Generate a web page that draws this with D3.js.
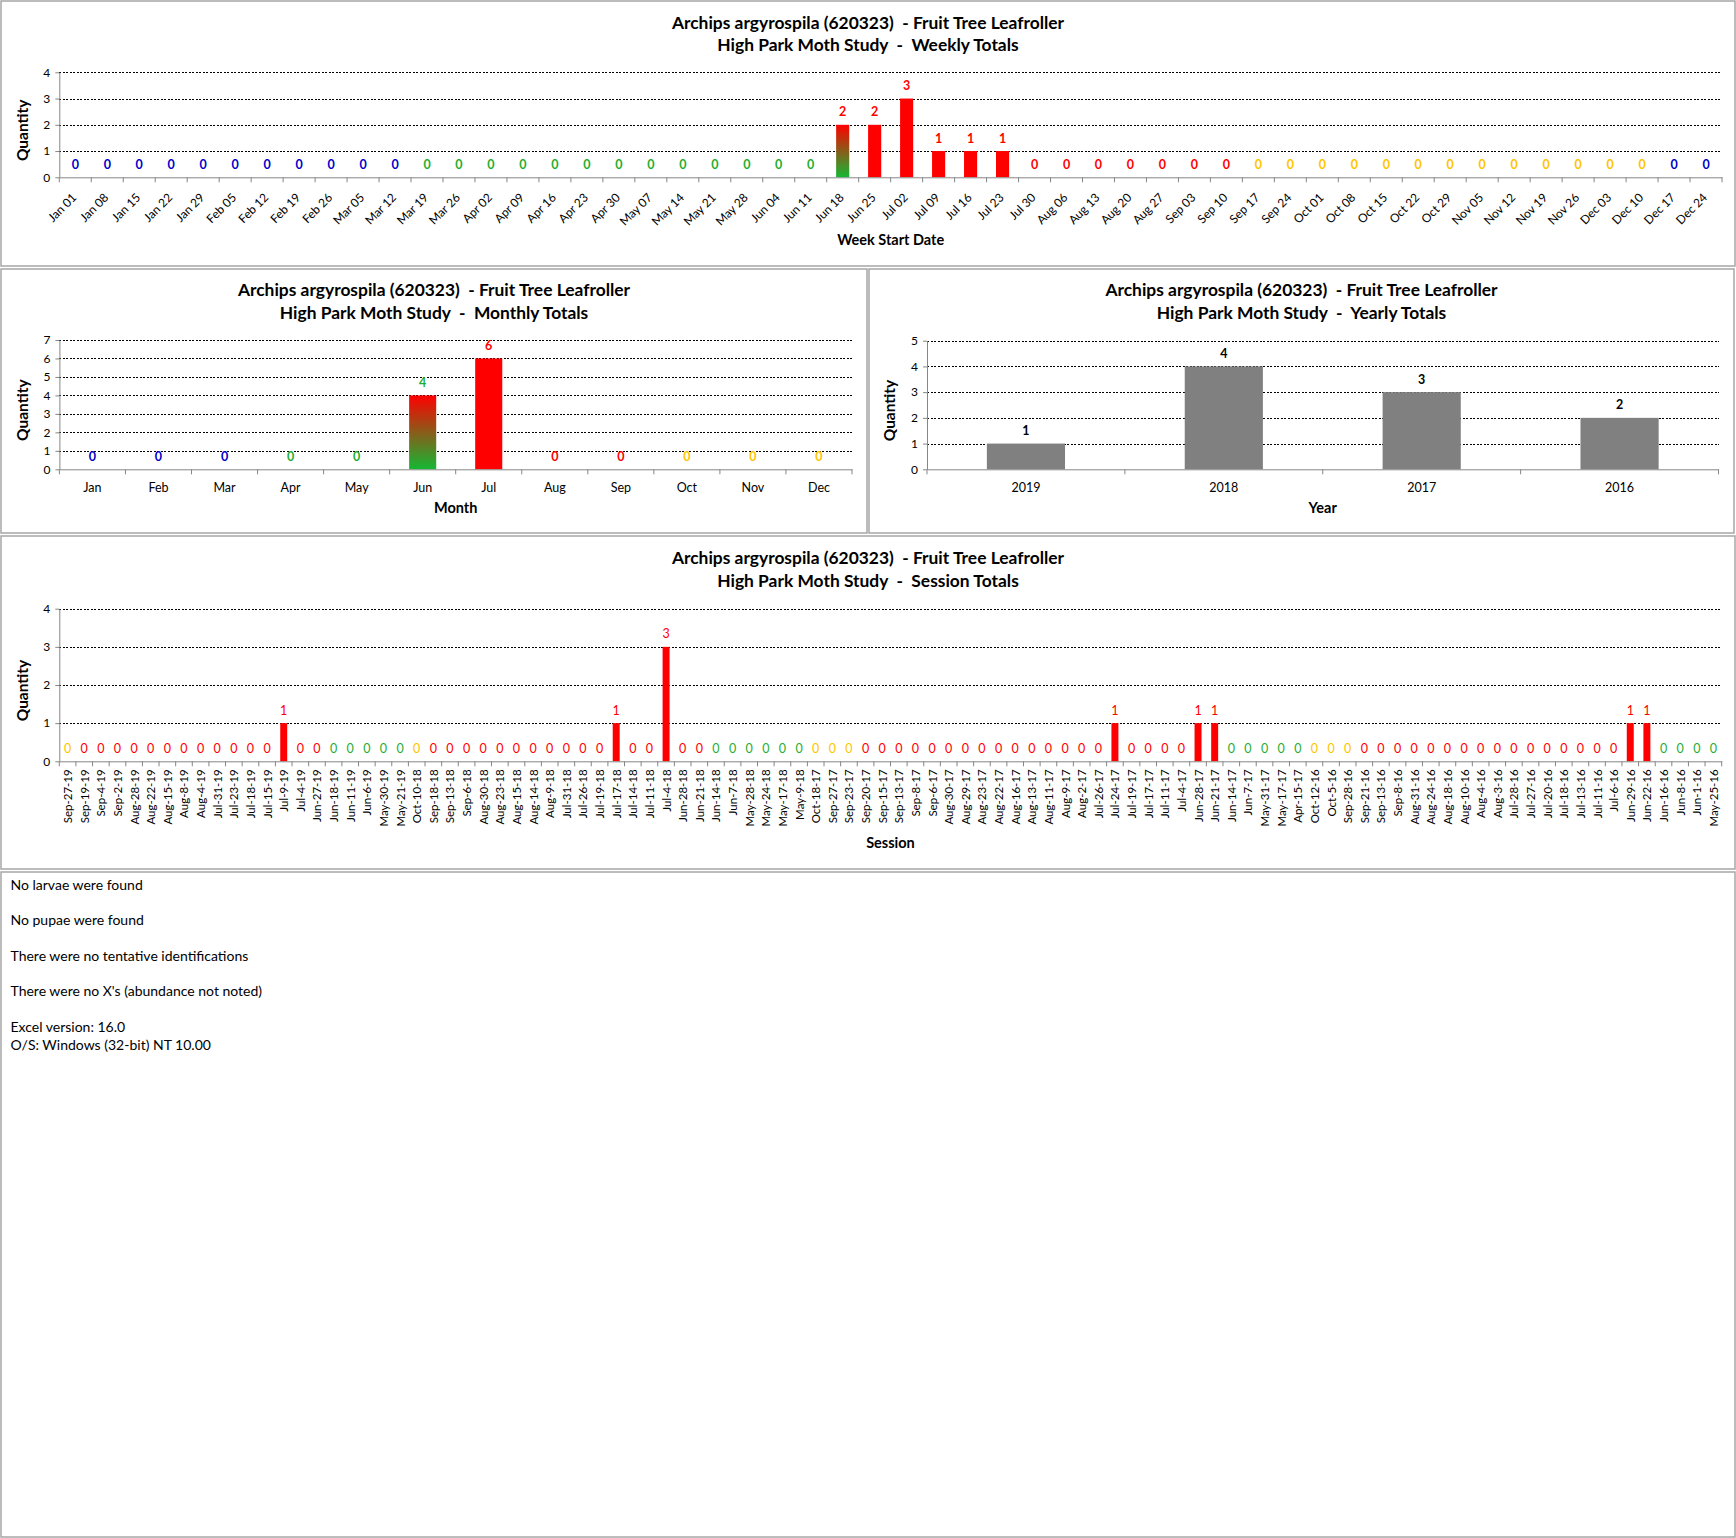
<!DOCTYPE html>
<html>
<head>
<meta charset="utf-8">
<script src="https://cdn.jsdelivr.net/npm/d3@7"></script>
<style>
  body { margin: 0; background: #fff; }
  text { font-family: Lato, "Open Sans", sans-serif; white-space: pre; }
</style>
</head>
<body>
<svg id="page" width="1736" height="1538"></svg>
<script>
const title1 = "Archips argyrospila (620323)  - Fruit Tree Leafroller";

const weekLabels = ["Jan 01","Jan 08","Jan 15","Jan 22","Jan 29","Feb 05","Feb 12","Feb 19","Feb 26",
  "Mar 05","Mar 12","Mar 19","Mar 26","Apr 02","Apr 09","Apr 16","Apr 23","Apr 30","May 07","May 14",
  "May 21","May 28","Jun 04","Jun 11","Jun 18","Jun 25","Jul 02","Jul 09","Jul 16","Jul 23","Jul 30",
  "Aug 06","Aug 13","Aug 20","Aug 27","Sep 03","Sep 10","Sep 17","Sep 24","Oct 01","Oct 08","Oct 15",
  "Oct 22","Oct 29","Nov 05","Nov 12","Nov 19","Nov 26","Dec 03","Dec 10","Dec 17","Dec 24"];
const weekValues = [0,0,0,0,0,0,0,0,0,0,0,0,0,0,0,0,0,0,0,0,0,0,0,0,
  2,2,3,1,1,1,
  0,0,0,0,0,0,0,0,0,0,0,0,0,0,0,0,0,0,0,0,0,0];
// season phase of each week: B winter, G spring, R summer, Y autumn
const weekPhase = "BBBBBBBBBBBGGGGGGGGGGGGGRRRRRRRRRRRRRYYYYYYYYYYYYYBB".split("");
const weekMixed = ["Jun 18"];

const monthLabels = ["Jan","Feb","Mar","Apr","May","Jun","Jul","Aug","Sep","Oct","Nov","Dec"];
const monthValues = [0,0,0,0,0,4,6,0,0,0,0,0];
const monthPhase = "BBBGGGRRRYYY".split("");
const monthMixed = ["Jun"];

const yearLabels = ["2019","2018","2017","2016"];
const yearValues = [1,4,3,2];

const sessionLabels = [
  "Sep-27-19","Sep-19-19","Sep-4-19","Sep-2-19","Aug-28-19","Aug-22-19","Aug-15-19","Aug-8-19","Aug-4-19",
  "Jul-31-19","Jul-23-19","Jul-18-19","Jul-15-19","Jul-9-19","Jul-4-19","Jun-27-19","Jun-18-19","Jun-11-19",
  "Jun-6-19","May-30-19","May-21-19",
  "Oct-10-18","Sep-18-18","Sep-13-18","Sep-6-18","Aug-30-18","Aug-23-18","Aug-15-18","Aug-14-18","Aug-9-18",
  "Jul-31-18","Jul-26-18","Jul-19-18","Jul-17-18","Jul-14-18","Jul-11-18","Jul-4-18","Jun-28-18","Jun-21-18",
  "Jun-14-18","Jun-7-18","May-28-18","May-24-18","May-17-18","May-9-18",
  "Oct-18-17","Sep-27-17","Sep-23-17","Sep-20-17","Sep-15-17","Sep-13-17","Sep-8-17","Sep-6-17","Aug-30-17",
  "Aug-29-17","Aug-23-17","Aug-22-17","Aug-16-17","Aug-13-17","Aug-11-17","Aug-9-17","Aug-2-17","Jul-26-17",
  "Jul-24-17","Jul-19-17","Jul-17-17","Jul-11-17","Jul-4-17","Jun-28-17","Jun-21-17","Jun-14-17","Jun-7-17",
  "May-31-17","May-17-17","Apr-15-17",
  "Oct-12-16","Oct-5-16","Sep-28-16","Sep-21-16","Sep-13-16","Sep-8-16","Aug-31-16","Aug-24-16","Aug-18-16",
  "Aug-10-16","Aug-4-16","Aug-3-16","Jul-28-16","Jul-27-16","Jul-20-16","Jul-18-16","Jul-13-16","Jul-11-16",
  "Jul-6-16","Jun-29-16","Jun-22-16","Jun-16-16","Jun-8-16","Jun-1-16","May-25-16"];
const sessionValues = [
  0,0,0,0,0,0,0,0,0,0,0,0,0,1,0,0,0,0,0,0,0,
  0,0,0,0,0,0,0,0,0,0,0,0,1,0,0,3,0,0,0,0,0,0,0,0,
  0,0,0,0,0,0,0,0,0,0,0,0,0,0,0,0,0,0,1,0,0,0,0,1,1,0,0,0,0,0,
  0,0,0,0,0,0,0,0,0,0,0,0,0,0,0,0,0,0,0,1,1,0,0,0,0];
const sessionPhase = ("YRRRRRRRRRRRRRRRGGGGG" + "YRRRRRRRRRRRRRRRRRGGGGGG" +
  "YYYRRRRRRRRRRRRRRRRRRRRRRGGGGG" + "YYYRRRRRRRRRRRRRRRRRRGGGG").split("");

const notes = ["No larvae were found", "No pupae were found", "There were no tentative identifications",
  "There were no X's (abundance not noted)", "Excel version: 16.0", "O/S: Windows (32-bit) NT 10.00"];

const phaseColor = { B: "#0000c8", G: "#1fae2f", R: "#ff0000", Y: "#ffc400", K: "#000000" };

const svg = d3.select("#page");

const grad = svg.append("defs").append("linearGradient")
  .attr("id", "mixed").attr("x1", 0).attr("y1", 0).attr("x2", 0).attr("y2", 1);
grad.append("stop").attr("offset", "0%").attr("stop-color", "#ff0000");
grad.append("stop").attr("offset", "100%").attr("stop-color", "#14b834");

function panel(x, y, w, h) {
  svg.append("rect").attr("x", x).attr("y", y).attr("width", w).attr("height", h)
    .attr("fill", "#fff").attr("stroke", "#a6a6a6").attr("stroke-width", 1.5);
}

panel(1, 1, 1734, 265);
panel(1, 269, 866, 264);
panel(869, 269, 865, 264);
panel(1, 536, 1734, 333);
panel(1, 872, 1734, 665);

function drawChart(o) {
  const g = svg.append("g");
  const x = d3.scaleBand().domain(o.cats).range([o.left, o.right]);
  const y = d3.scaleLinear().domain([0, o.yMax]).range([o.bottom, o.top]);
  const bw = x.step() * o.barRatio;
  const cx = o.panel[0] + o.panel[2] / 2;

  g.append("text").attr("x", cx).attr("y", o.titleY).attr("text-anchor", "middle")
    .attr("font-weight", "bold").attr("font-size", 17.4).text(title1);
  g.append("text").attr("x", cx).attr("y", o.titleY + 22.5).attr("text-anchor", "middle")
    .attr("font-weight", "bold").attr("font-size", 17.4).text(o.title2);

  // dashed gridlines
  g.append("g").attr("transform", `translate(${o.left},0)`)
    .call(d3.axisLeft(y).ticks(o.yMax).tickSize(-(o.right - o.left)).tickFormat(""))
    .call(a => a.select(".domain").remove())
    .call(a => a.selectAll(".tick").filter(d => d === 0).remove())
    .selectAll("line").attr("stroke", "#000").attr("stroke-dasharray", "2,1.5")
    .attr("shape-rendering", "crispEdges");

  // bars
  g.selectAll("rect.bar").data(o.cats.map((c, i) => ({ c, v: o.values[i], i })).filter(d => d.v > 0))
    .join("rect").attr("class", "bar")
    .attr("x", d => x(d.c) + (x.step() - bw) / 2).attr("width", bw)
    .attr("y", d => y(d.v)).attr("height", d => y(0) - y(d.v))
    .attr("fill", d => o.mixed.includes(d.c) ? "url(#mixed)" : o.barColor);

  // y axis
  g.append("g").attr("transform", `translate(${o.left},0)`)
    .call(d3.axisLeft(y).ticks(o.yMax).tickSize(4).tickSizeOuter(0).tickPadding(5).tickFormat(d3.format("d")))
    .attr("font-family", null).attr("font-size", 12)
    .call(a => a.select(".domain").attr("stroke", "#868686"))
    .call(a => a.selectAll("line").attr("stroke", "#868686"))
    .call(a => a.selectAll("text").attr("fill", "#000"));

  // x axis
  const xa = g.append("g").attr("transform", `translate(0,${o.bottom})`)
    .call(d3.axisBottom(x).tickSize(0).tickSizeOuter(0))
    .attr("font-family", null).attr("font-size", o.tickFont);
  xa.select(".domain").attr("stroke", "#868686");
  const tx = xa.selectAll(".tick text").attr("fill", "#000").attr("x", 0).attr("dy", 0);
  if (o.rotate === "diag") {
    tx.attr("y", 0).attr("text-anchor", "end").attr("transform", "translate(2,21) rotate(-45)");
  } else if (o.rotate === "vert") {
    tx.attr("y", 0).attr("text-anchor", "end").attr("transform", "translate(4.5,8) rotate(-90)");
  } else {
    tx.attr("y", 22.7);
  }
  xa.selectAll("line.cell").data(o.cats.map(c => x(c)).concat([o.right]))
    .join("line").attr("class", "cell")
    .attr("x1", d => d).attr("x2", d => d).attr("y1", 0).attr("y2", 5)
    .attr("stroke", "#868686");

  // value labels
  g.selectAll("text.val").data(o.cats.map((c, i) => ({ c, v: o.values[i], p: o.phase[i] })))
    .join("text").attr("class", "val")
    .attr("x", d => x(d.c) + x.step() / 2).attr("y", d => y(d.v) - 8.5)
    .attr("text-anchor", "middle").attr("font-size", 12.5).attr("font-weight", o.valWeight)
    .attr("fill", d => phaseColor[d.p]).text(d => d.v);

  // axis titles
  g.append("text").attr("transform", `translate(${o.qx},${(o.top + o.bottom) / 2 + 5.5}) rotate(-90)`)
    .attr("text-anchor", "middle").attr("font-weight", "bold").attr("font-size", 15.5).text("Quantity");
  g.append("text").attr("x", (o.left + o.right) / 2).attr("y", o.xTitleY)
    .attr("text-anchor", "middle").attr("font-weight", "bold").attr("font-size", 14.5).text(o.xTitle);
}

drawChart({
  panel: [1, 1, 1734, 265], left: 59.3, right: 1722, top: 72.3, bottom: 177.3, yMax: 4,
  cats: weekLabels, values: weekValues, phase: weekPhase, mixed: weekMixed, barColor: "#ff0000",
  barRatio: 0.41, titleY: 28.5, title2: "High Park Moth Study  -  Weekly Totals",
  rotate: "diag", tickFont: 12, valWeight: "bold", qx: 28, xTitle: "Week Start Date", xTitleY: 245
});

drawChart({
  panel: [1, 269, 866, 264], left: 59.4, right: 852, top: 340, bottom: 469.3, yMax: 7,
  cats: monthLabels, values: monthValues, phase: monthPhase, mixed: monthMixed, barColor: "#ff0000",
  barRatio: 0.41, titleY: 296, title2: "High Park Moth Study  -  Monthly Totals",
  rotate: "flat", tickFont: 12.5, valWeight: "bold", qx: 28, xTitle: "Month", xTitleY: 513
});

drawChart({
  panel: [869, 269, 865, 264], left: 927, right: 1718.5, top: 340.7, bottom: 469.3, yMax: 5,
  cats: yearLabels, values: yearValues, phase: yearLabels.map(() => "K"), mixed: [], barColor: "#808080",
  barRatio: 0.395, titleY: 296, title2: "High Park Moth Study  -  Yearly Totals",
  rotate: "flat", tickFont: 12.5, valWeight: "bold", qx: 895, xTitle: "Year", xTitleY: 513
});

drawChart({
  panel: [1, 536, 1734, 333], left: 59.3, right: 1721.7, top: 608.7, bottom: 761.3, yMax: 4,
  cats: sessionLabels, values: sessionValues, phase: sessionPhase, mixed: [], barColor: "#ff0000",
  barRatio: 0.42, titleY: 564, title2: "High Park Moth Study  -  Session Totals",
  rotate: "vert", tickFont: 11.5, valWeight: "normal", qx: 27.5, xTitle: "Session", xTitleY: 848
});

const noteY = [889.5, 925, 961, 996, 1032, 1049.5];
svg.append("g").selectAll("text").data(notes).join("text")
  .attr("x", 10.5).attr("y", (d, i) => noteY[i]).attr("font-size", 14).attr("fill", "#000").text(d => d);
</script>
</body>
</html>
